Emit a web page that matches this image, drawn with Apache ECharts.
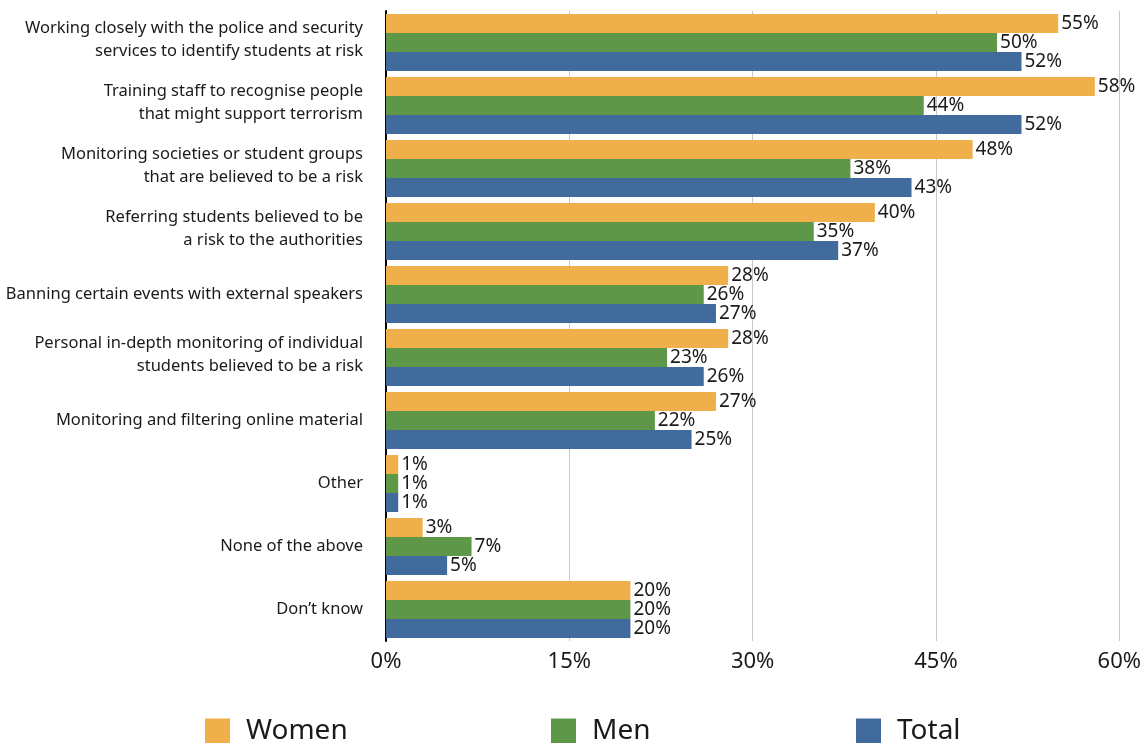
<!DOCTYPE html>
<html>
<head>
<meta charset="utf-8">
<style>
  html, body { margin: 0; padding: 0; background: #ffffff; }
  #chart { width: 1144px; height: 743px; }
</style>
<script src="https://cdn.jsdelivr.net/npm/echarts@6/dist/echarts.min.js"></script>
</head>
<body>
<div id="chart"></div>
<script>
// Measures taken by universities, share of respondents (%)
const categories = [
  'Working closely with the police and security\nservices to identify students at risk',
  'Training staff to recognise people\nthat might support terrorism',
  'Monitoring societies or student groups\nthat are believed to be a risk',
  'Referring students believed to be\na risk to the authorities',
  'Banning certain events with external speakers',
  'Personal in-depth monitoring of individual\nstudents believed to be a risk',
  'Monitoring and filtering online material',
  'Other',
  'None of the above',
  'Don\u2019t know'
];
const women = [55, 58, 48, 40, 28, 28, 27, 1, 3, 20];
const men   = [50, 44, 38, 35, 26, 23, 22, 1, 7, 20];
const total = [52, 52, 43, 37, 27, 26, 25, 1, 5, 20];

const seriesNames = ['Women', 'Men', 'Total'];
const seriesColors = ['#EFB04B', '#5E9747', '#416B9D'];
const seriesData = [women, men, total];

const FONT = '"Noto Sans", sans-serif';
const TEXT = '#1a1a1a';

const chart = echarts.init(document.getElementById('chart'), null, { renderer: 'canvas' });

const legendLefts = [205, 551, 856];

chart.setOption({
  animation: false,
  backgroundColor: '#ffffff',
  textStyle: { fontFamily: FONT },
  grid: { left: 386, right: 23, top: 11, bottom: 102, containLabel: false },
  legend: seriesNames.map((name, i) => ({
    data: [name],
    left: legendLefts[i],
    top: 717,
    padding: 0,
    itemWidth: 25,
    itemHeight: 25,
    icon: 'rect',
    selectedMode: false,
    textStyle: {
      fontFamily: FONT,
      fontSize: 28,
      color: TEXT,
      padding: [0, 0, 0, 11]
    }
  })),
  xAxis: {
    type: 'value',
    min: 0,
    max: 60,
    interval: 15,
    axisLine: { show: false },
    axisTick: { show: false },
    splitLine: { show: true, lineStyle: { color: '#c8c8c8', width: 1 } },
    axisLabel: {
      formatter: '{value}%',
      fontFamily: FONT,
      fontSize: 22,
      color: TEXT,
      margin: 10
    }
  },
  yAxis: {
    type: 'category',
    inverse: true,
    data: categories,
    axisLine: { show: true, lineStyle: { color: '#000000', width: 2 } },
    axisTick: { show: false },
    axisLabel: {
      fontFamily: FONT,
      fontSize: 16.5,
      lineHeight: 23,
      color: TEXT,
      align: 'right',
      margin: 23,
      // two-line labels sit a little above the row centre
      formatter: (v) => v.indexOf('\n') >= 0 ? v + '\n{gap| }' : v,
      rich: {
        gap: { fontSize: 1, lineHeight: 6 }
      }
    }
  },
  series: seriesNames.map((name, i) => ({
    name: name,
    type: 'bar',
    data: seriesData[i],
    barGap: '0%',
    barCategoryGap: '9.5%',
    itemStyle: { color: seriesColors[i] },
    label: {
      show: true,
      position: 'right',
      distance: 3,
      formatter: '{c}%',
      fontFamily: FONT,
      fontSize: 19,
      color: TEXT
    }
  }))
});
</script>
</body>
</html>
